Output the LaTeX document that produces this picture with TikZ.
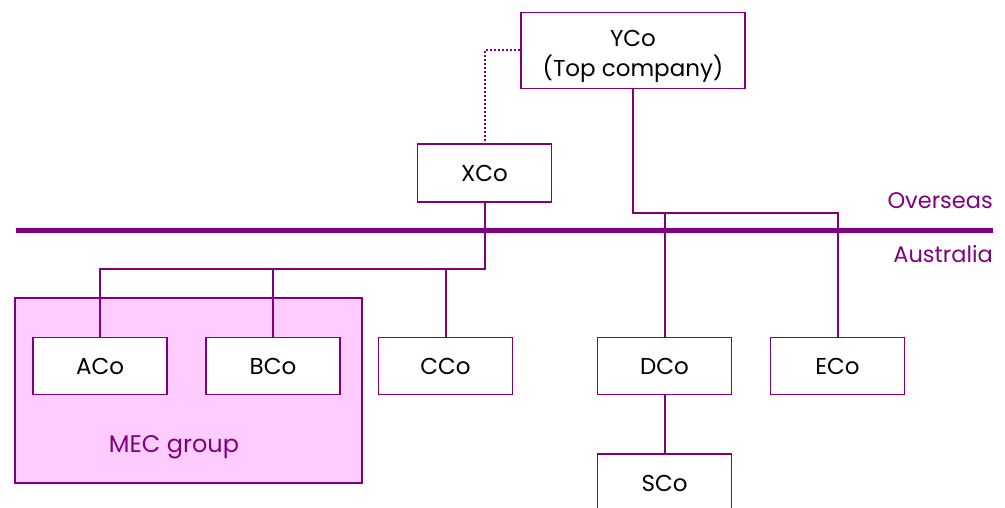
\documentclass[tikz,border=0pt]{standalone}
\usepackage{fontspec}
\setmainfont{Poppins}
\definecolor{mecpurple}{HTML}{800080}
\definecolor{mecpink}{HTML}{FFCCFF}

\begin{document}
\begin{tikzpicture}[x=1pt,y=-1pt,
	company/.style={draw=mecpurple,line width=1.8pt,fill=white,minimum width=134pt,minimum height=57pt,inner sep=0pt,align=center,font=\fontsize{23}{30}\selectfont},
	link/.style={draw=mecpurple,line width=2pt},
	border/.style={draw=mecpurple,line width=5pt},
	region/.style={text=mecpurple,font=\fontsize{22.5}{26}\selectfont,anchor=east,inner sep=0pt},
	groupbox/.style={draw=mecpurple,line width=2pt,fill=mecpink}]
	\clip (0,0) rectangle (1005,508);
	\draw[groupbox] (15,298) rectangle (362,483);
	\node[region,anchor=center,font=\fontsize{24}{26}\selectfont] (mec) at (174,447) {MEC group};

	\node[company,minimum width=224pt,minimum height=76pt] (yco) at (633,50.5) {\rule{0pt}{28pt}YCo\\(Top company)};
	\node[company,minimum height=58pt] (xco) at (484.5,173) {XCo};
	\node[company] (aco) at (100,366) {ACo};
	\node[company] (bco) at (273,366) {BCo};
	\node[company] (cco) at (445.5,366) {CCo};
	\node[company] (dco) at (664.5,366) {DCo};
	\node[company] (eco) at (837.5,366) {ECo};
	\node[company,minimum height=58pt] (sco) at (664.5,483) {SCo};

	\coordinate (left) at (16,231);
	\coordinate (right) at (993,231);
	\coordinate (aubar) at (484.5,269);
	\coordinate (osbar) at (633,213);
	\draw[border] (left) -- (right);
	\node[region] (overseas) at (993,201) {Overseas};
	\node[region] (australia) at (993,254) {Australia};

	\draw[link,dotted] (yco.west) -| (xco.north);
	\draw[link] (xco.south) -- (aubar) -| (aco.north);
	\draw[link] (bco.north) |- (aubar);
	\draw[link] (cco.north) |- (aubar);
	\draw[link] (yco.south) -- (osbar) -| (eco.north);
	\draw[link] (dco.north) |- (osbar);
	\draw[link] (dco.south) -- (sco.north);
\end{tikzpicture}
\end{document}
